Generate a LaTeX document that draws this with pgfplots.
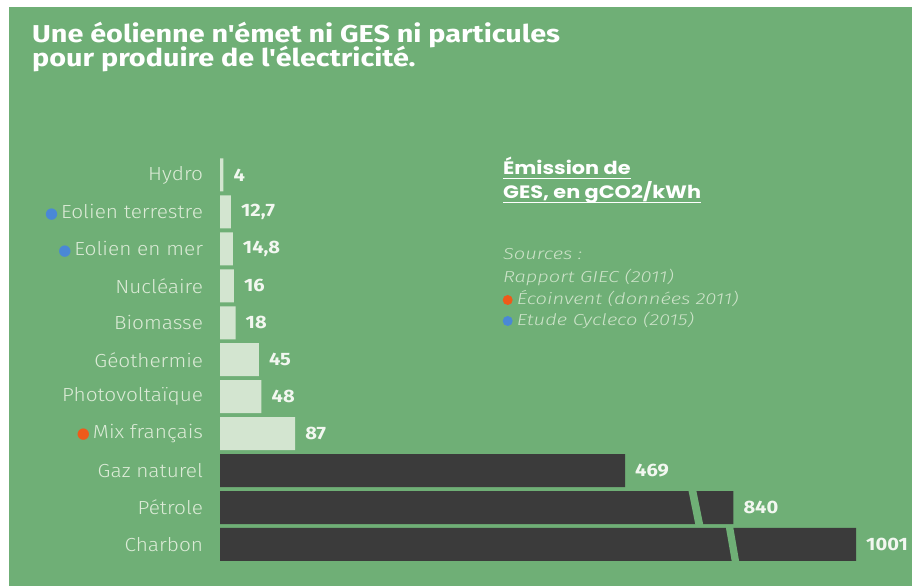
\documentclass[border=0pt]{standalone}
\usepackage{fontspec}
\setmainfont{Fira Sans}
\IfFontExistsTF{Fira Sans Light}{\newfontfamily\lab{Fira Sans Light}[FakeStretch=1.10]\newfontfamily\src{Fira Sans Light Italic}[FakeStretch=1.26]}{\newfontfamily\lab{Fira Sans}[FakeStretch=1.10]\newfontfamily\src{Fira Sans Italic}[FakeStretch=1.26]}
\newfontfamily\titlefont{Fira Sans Bold}[FakeStretch=1.18]
\newfontfamily\legfont{Poppins Bold}[FakeStretch=1.16]
\newfontfamily\valfont{Fira Sans Bold}[FakeStretch=1.12]
\newfontfamily\dejavu{DejaVu Sans}
\usepackage{pgfplots}
\pgfplotsset{compat=1.18}
\usepackage{pgfplotstable}
\definecolor{bg}{HTML}{6FAF76}
\definecolor{lightbar}{HTML}{D3E5D0}
\definecolor{darkbar}{HTML}{3B3B3B}
\definecolor{labcol}{HTML}{DCEBD7}
\definecolor{valcol}{HTML}{F2F7F0}
\definecolor{srccol}{HTML}{CDE3C9}
\definecolor{dotblue}{HTML}{4A88D6}
\definecolor{dotorange}{HTML}{EE5A1A}

\pgfplotstableread{
idx value disp
0 4 4
1 12.7 12.7
2 14.8 14.8
3 16 16
4 18 18
5 45 45
6 48 48
7 87 87
}\lowcarbon
\pgfplotstableread{
idx value disp
8 469 469
9 840 594.4
10 1001 736.5
}\fossil

\newcommand{\bdot}[1]{{\dejavu\fontsize{15}{15}\selectfont\color{#1}●}\kern3bp}

\begin{document}
\begin{tikzpicture}[x=1bp,y=1bp]
\fill[white] (0,0) rectangle (912,586);
\fill[bg] (9,0) rectangle (912,579);
\node[anchor=base west, inner sep=0, text=white, font=\titlefont\fontsize{24.5}{24.5}\selectfont] at (32,543) {Une éolienne n'émet ni GES ni particules};
\node[anchor=base west, inner sep=0, text=white, font=\titlefont\fontsize{24.5}{24.5}\selectfont] at (32,519) {pour produire de l'électricité.};

\node[anchor=base west, inner sep=0, text=white, font=\legfont\fontsize{18}{18}\selectfont] (L1) at (503,411) {Émission de};
\draw[white, line width=1.4bp] ([yshift=-3.5bp]L1.base west) -- ([yshift=-3.5bp]L1.base east);
\node[anchor=base west, inner sep=0, text=white, font=\legfont\fontsize{18}{18}\selectfont] (L2) at (503,387) {GES, en gCO2/kWh};
\draw[white, line width=1.4bp] ([yshift=-3.5bp]L2.base west) -- ([yshift=-3.5bp]L2.base east);

\begin{scope}[every node/.style={anchor=base west, inner sep=0, text=srccol, font=\src\fontsize{16}{16}\selectfont}]
\node at (503,326) {Sources :};
\node at (503,303) {Rapport GIEC (2011)};
\node at (516.7,281) {Écoinvent (données 2011)};
\node at (516.7,260) {Etude Cycleco (2015)};
\end{scope}
\fill[dotorange] (507.7,286) circle (5bp);
\fill[dotblue] (507.7,265) circle (5bp);

\begin{axis}[
  at={(220bp,429.5bp)}, anchor=north west,
  width=656.3bp, height=406.45bp, scale only axis,
  xmin=0, xmax=760, ymin=-0.5, ymax=10.5, y dir=reverse,
  xbar, bar width=33bp,
  axis line style={draw=none}, tick style={draw=none}, xtick=\empty,
  ytick={0,...,10},
  yticklabels={Hydro, \bdot{dotblue}Eolien terrestre, \bdot{dotblue}Eolien en mer, Nucléaire, Biomasse, Géothermie, Photovoltaïque, \bdot{dotorange}Mix français, Gaz naturel, Pétrole, Charbon},
  yticklabel style={anchor=east, inner sep=0pt, xshift=-12.5bp, text=labcol, font=\lab\fontsize{19}{19}\selectfont},
  point meta=explicit,
  nodes near coords={\pgfmathprintnumber[assume math mode=true,use comma,1000 sep={}]{\pgfplotspointmeta}},
  nodes near coords style={anchor=west, inner sep=0pt, xshift=10bp, text=valcol, font=\valfont\fontsize{18}{18}\selectfont},
  clip=false,
]
\addplot[fill=lightbar, draw=none, bar shift=0pt] table[x=disp, y=idx, meta=value]{\lowcarbon};
\addplot[fill=darkbar, draw=none, bar shift=0pt] table[x=disp, y=idx, meta=value]{\fossil};
\fill[bg] (axis cs:542.1,8.5) -- (axis cs:551.2,8.5) -- (axis cs:559.9,9.5) -- (axis cs:550.8,9.5) -- cycle;
\fill[bg] (axis cs:585.5,9.5) -- (axis cs:594.1,9.5) -- (axis cs:601.5,10.5) -- (axis cs:592.9,10.5) -- cycle;
\end{axis}
\pgfresetboundingbox
\path (0,0) rectangle (912,586);
\end{tikzpicture}
\end{document}
